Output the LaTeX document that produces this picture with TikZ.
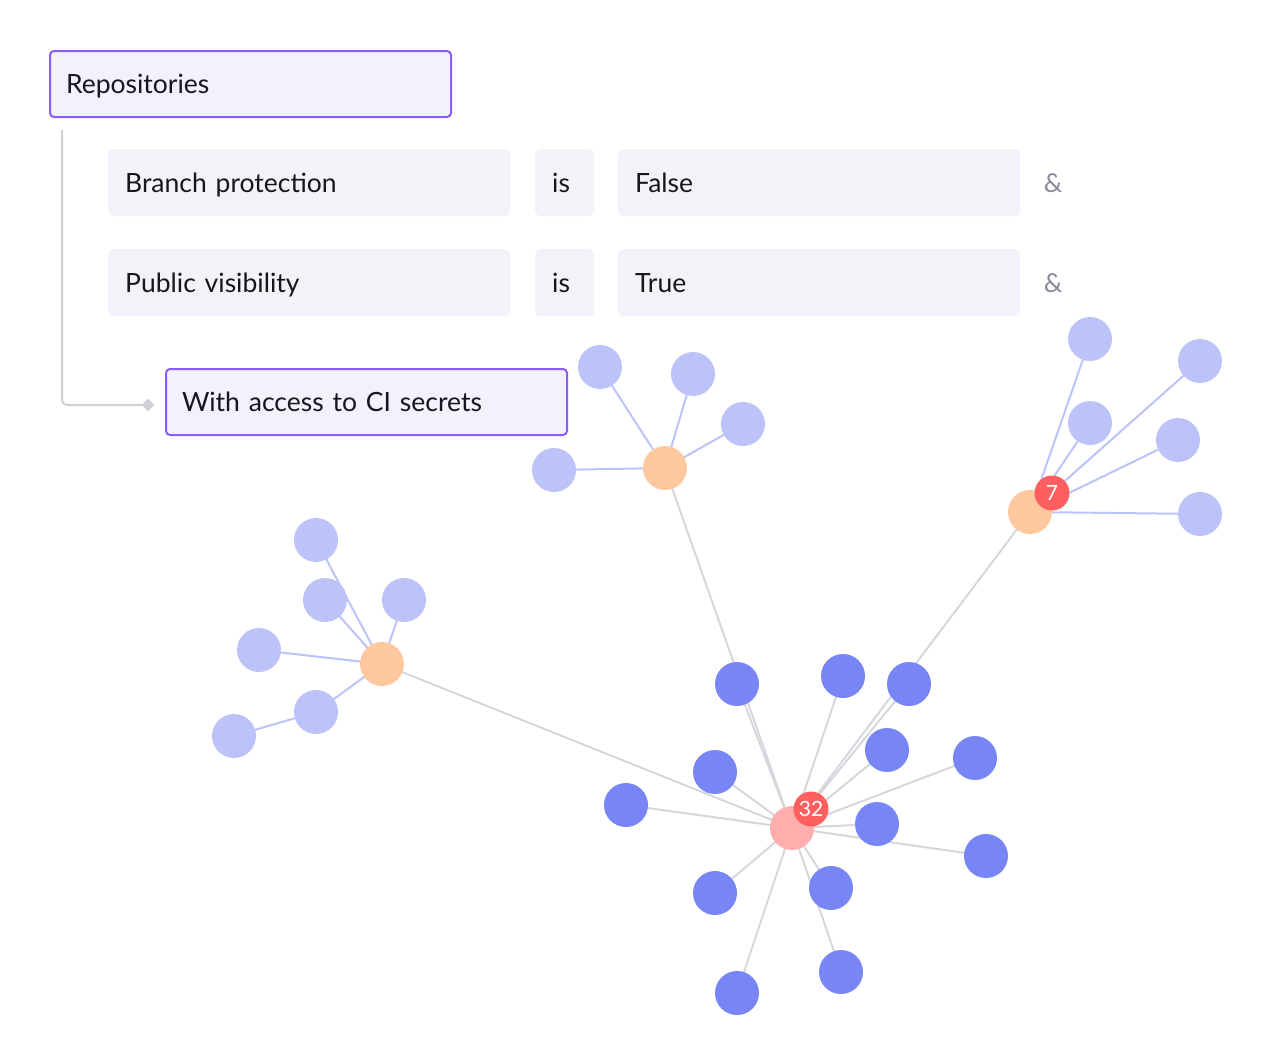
\documentclass[tikz,border=0pt]{standalone}
\usepackage{fontspec}
\setmainfont{Lato}
\usetikzlibrary{shapes.geometric}
\definecolor{purpleb}{HTML}{8B5CF6}
\definecolor{pfill}{HTML}{F3F1FC}
\definecolor{cfill}{HTML}{F2F2F9}
\definecolor{txt}{HTML}{16161F}
\definecolor{amp}{HTML}{8A8A99}
\definecolor{connc}{HTML}{CFCFD8}
\definecolor{lightn}{HTML}{BCC3F8}
\definecolor{darkn}{HTML}{7886F5}
\definecolor{orangen}{HTML}{FFC89E}
\definecolor{hubn}{HTML}{FFADAD}
\definecolor{badgec}{HTML}{FF5F5F}
\definecolor{grayedge}{HTML}{D6D6DD}
\pgfdeclarelayer{bg}
\pgfsetlayers{bg,main}
\tikzset{
  txtfont/.style={font=\fontsize{26.5}{30}\selectfont, text=txt, text depth=0pt},
  pbox/.style={txtfont, draw=purpleb, line width=2pt, fill=pfill, rounded corners=4pt,
    anchor=north west, minimum height=66pt, inner xsep=16pt, align=left},
  cbox/.style={txtfont, fill=cfill, rounded corners=5pt,
    anchor=north west, minimum height=67pt, inner xsep=17pt, align=left},
  ampn/.style={font=\fontsize{26}{30}\selectfont, text=amp, text depth=0pt},
  dot/.style={circle, minimum size=44pt, inner sep=0pt},
  lnode/.style={dot, fill=lightn},
  dnode/.style={dot, fill=darkn},
  onode/.style={dot, fill=orangen},
  hnode/.style={dot, fill=hubn},
  badge/.style={circle, minimum size=35pt, inner sep=0pt, fill=badgec, text=white,
    font=\fontsize{21}{24}\selectfont},
  ledge/.style={draw=lightn, line width=2pt},
  gedge/.style={draw=grayedge, line width=2pt},
  connline/.style={draw=connc, line width=2pt, rounded corners=5pt},
  tipdiamond/.style={diamond, fill=connc, inner sep=0pt, minimum size=13pt}
}
\begin{document}
\begin{tikzpicture}[x=1pt,y=-1pt]
\useasboundingbox (0,0) rectangle (1270,1063);
% boxes
\node[pbox, text width=369pt] (rep) at (49,50) {Repositories};
\node[cbox, text width=368pt] (bp) at (108,149) {Branch protection};
\node[cbox, text width=25pt, inner xsep=17pt] (is1) at (535,149) {is};
\node[cbox, text width=368pt] (fa) at (618,149) {False};
\node[ampn] (amp1) at (1053,183) {\&};
\node[cbox, text width=368pt] (pv) at (108,249) {Public visibility};
\node[cbox, text width=25pt, inner xsep=17pt] (is2) at (535,249) {is};
\node[cbox, text width=368pt] (tr) at (618,249) {True};
\node[ampn] (amp2) at (1053,283) {\&};
\node[pbox, text width=369pt] (ci) at (165,368) {With access to CI secrets};
% connector
\coordinate (cstart) at ([shift={(13,12)}]rep.south west);
\coordinate (cend) at ([shift={(-17,3)}]ci.west);
\draw[connline] (cstart) |- (cend);
\node[tipdiamond] (cdia) at (cend) {};

% hub
\node[hnode] (H) at (792,828) {};
% dark nodes
\node[dnode] (d1) at (737,684) {};
\node[dnode] (d2) at (843,676) {};
\node[dnode] (d3) at (909,684) {};
\node[dnode] (d4) at (887,750) {};
\node[dnode] (d5) at (975,758) {};
\node[dnode] (d6) at (715,772) {};
\node[dnode] (d7) at (626,805) {};
\node[dnode] (d8) at (877,824) {};
\node[dnode] (d9) at (986,856) {};
\node[dnode] (d10) at (715,893) {};
\node[dnode] (d11) at (831,888) {};
\node[dnode] (d12) at (841,972) {};
\node[dnode] (d13) at (737,993) {};
% top cluster
\node[onode] (T) at (665,468) {};
\node[lnode] (t1) at (600,367) {};
\node[lnode] (t2) at (693,374) {};
\node[lnode] (t3) at (743,424) {};
\node[lnode] (t4) at (554,470) {};
% left cluster
\node[onode] (L) at (382,664) {};
\node[lnode] (l1) at (316,540) {};
\node[lnode] (l2) at (325,600) {};
\node[lnode] (l3) at (404,600) {};
\node[lnode] (l4) at (259,650) {};
\node[lnode] (l5) at (316,712) {};
\node[lnode] (l6) at (234,736) {};
% right cluster
\node[onode] (R) at (1030,512) {};
\node[lnode] (r1) at (1090,339) {};
\node[lnode] (r2) at (1200,361) {};
\node[lnode] (r3) at (1090,423) {};
\node[lnode] (r4) at (1178,440) {};
\node[lnode] (r5) at (1200,514) {};
% badges
\node[badge] (b32) at (811,809) {32};
\node[badge] (b7) at (1052,493) {7};

\begin{pgfonlayer}{bg}
\foreach \n in {d1,d2,d3,d4,d5,d6,d7,d8,d9,d10,d11,d12,d13,T,L,R}
  \draw[gedge] (H.center) -- (\n.center);
\foreach \n in {t1,t2,t3,t4}
  \draw[ledge] (T.center) -- (\n.center);
\foreach \n in {l1,l2,l3,l4,l5}
  \draw[ledge] (L.center) -- (\n.center);
\draw[ledge] (l5.center) -- (l6.center);
\foreach \n in {r1,r2,r3,r4,r5}
  \draw[ledge] (R.center) -- (\n.center);
\end{pgfonlayer}
\end{tikzpicture}
\end{document}
